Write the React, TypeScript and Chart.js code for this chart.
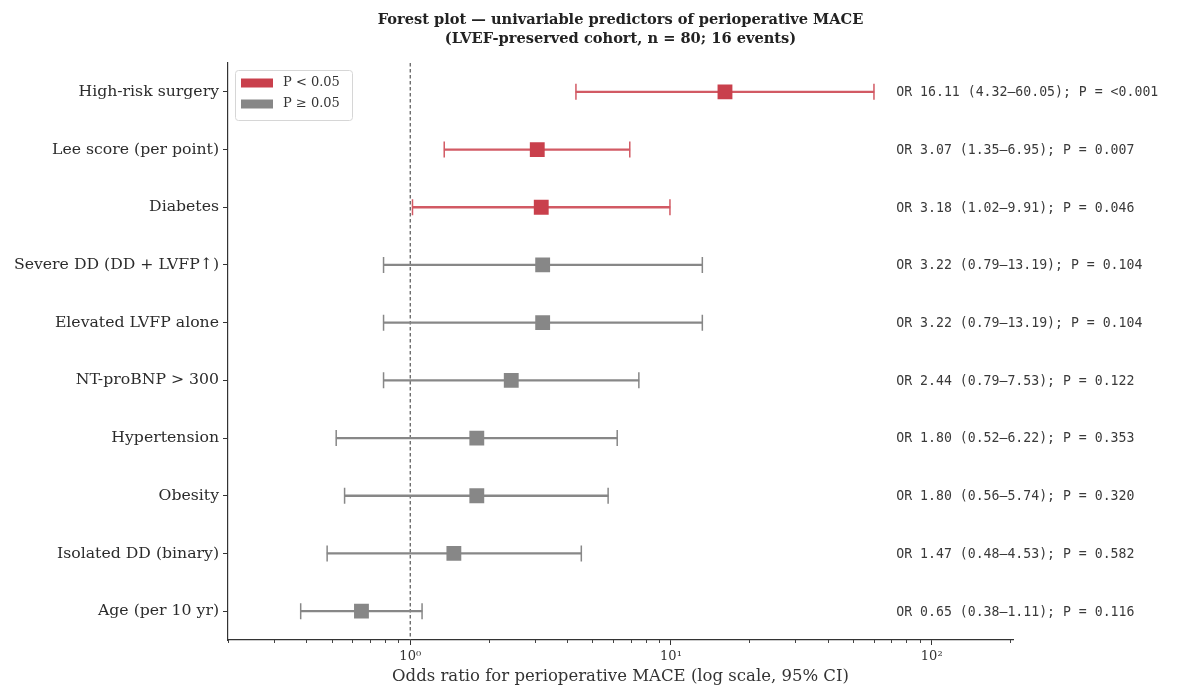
import React, { useEffect, useRef } from "react";
import { Chart, registerables } from "chart.js";

Chart.register(...registerables);

const categories = [
  "High-risk surgery",
  "Lee score (per point)",
  "Diabetes",
  "Severe DD (DD + LVFP\u2191)",
  "Elevated LVFP alone",
  "NT-proBNP > 300",
  "Hypertension",
  "Obesity",
  "Isolated DD (binary)",
  "Age (per 10 yr)",
];
const oddsRatios = [16.11, 3.07, 3.18, 3.22, 3.22, 2.44, 1.8, 1.8, 1.47, 0.65];
const ciLower = [4.32, 1.35, 1.02, 0.79, 0.79, 0.79, 0.52, 0.56, 0.48, 0.38];
const ciUpper = [60.05, 6.95, 9.91, 13.19, 13.19, 7.53, 6.22, 5.74, 4.53, 1.11];
const pValues = [0.0005, 0.007, 0.046, 0.104, 0.104, 0.122, 0.353, 0.32, 0.582, 0.116];
const pLabels = ["<0.001", "0.007", "0.046", "0.104", "0.104", "0.122", "0.353", "0.320", "0.582", "0.116"];
const xTickValues = [1, 10, 100];
const xTickLabels = ["10\u2070", "10\u00b9", "10\u00b2"];
const legendLabels = ["P < 0.05", "P \u2265 0.05"];

const RED = "#c9404c";
const RED_LINE = "#d25a64";
const GREY = "#878787";
const X_MIN = 0.2;
const X_MAX = 205;

const sig = pValues.map((p) => p < 0.05);
const markerColors = sig.map((s) => (s ? RED : GREY));
const lineColors = sig.map((s) => (s ? RED_LINE : GREY));
const annotations = categories.map(
  (_, i) =>
    `OR ${oddsRatios[i].toFixed(2)} (${ciLower[i].toFixed(2)}\u2013${ciUpper[i].toFixed(2)}); P = ${pLabels[i]}`
);

const SERIF = "'DejaVu Serif', serif";
const MONO = "'DejaVu Sans Mono', monospace";

const overlayPlugin = {
  id: "forestOverlay",
  beforeDatasetsDraw(chart: any) {
    const { ctx, chartArea } = chart;
    const x = chart.scales.x.getPixelForValue(1);
    ctx.save();
    ctx.strokeStyle = "#555555";
    ctx.lineWidth = 1.2;
    ctx.setLineDash([3.5, 2.5]);
    ctx.beginPath();
    ctx.moveTo(x, chartArea.top);
    ctx.lineTo(x, chartArea.bottom);
    ctx.stroke();
    ctx.restore();
  },
  afterDraw(chart: any) {
    const { ctx, chartArea } = chart;
    const xs = chart.scales.x;
    const ys = chart.scales.y;
    ctx.save();
    // title
    const cx = (chartArea.left + chartArea.right) / 2;
    ctx.fillStyle = "#222222";
    ctx.font = `bold 14.6px ${SERIF}`;
    ctx.textAlign = "center";
    ctx.textBaseline = "middle";
    ctx.fillText("Forest plot \u2014 univariable predictors of perioperative MACE", cx, 20);
    ctx.fillText("(LVEF-preserved cohort, n = 80; 16 events)", cx, 39.5);

    // minor ticks on x axis
    ctx.strokeStyle = "#444444";
    ctx.lineWidth = 1;
    for (let d = -1; d <= 2; d++) {
      for (let m = 2; m <= 9; m++) {
        const v = m * Math.pow(10, d);
        if (v < X_MIN || v > X_MAX) continue;
        const px = Math.round(xs.getPixelForValue(v)) + 0.5;
        ctx.beginPath();
        ctx.moveTo(px, chartArea.bottom);
        ctx.lineTo(px, chartArea.bottom + 3);
        ctx.stroke();
      }
    }

    // annotations
    ctx.font = `13.2px ${MONO}`;
    ctx.fillStyle = "#3a3a3a";
    ctx.textAlign = "left";
    ctx.textBaseline = "middle";
    const ax = chartArea.left + 0.85 * (chartArea.right - chartArea.left);
    annotations.forEach((t, i) => {
      ctx.fillText(t, ax + 1, ys.getPixelForValue(i) + 1);
    });

    // legend
    const lx = 235, ly = 70, lw = 117, lh = 50;
    ctx.fillStyle = "rgba(255,255,255,0.85)";
    ctx.strokeStyle = "#d6d6d6";
    ctx.lineWidth = 1;
    ctx.beginPath();
    ctx.roundRect(lx + 0.5, ly + 0.5, lw, lh, 3);
    ctx.fill();
    ctx.stroke();
    const items = [RED, GREY];
    ctx.font = `13px ${SERIF}`;
    items.forEach((c, i) => {
      const yy = ly + 13 + i * 21;
      ctx.fillStyle = c;
      ctx.fillRect(lx + 6, yy - 4.5, 32, 9);
      ctx.fillStyle = "#333333";
      ctx.fillText(legendLabels[i], lx + 48, yy);
    });
    ctx.restore();
  },
};

export default function App() {
  const canvasRef = useRef<HTMLCanvasElement | null>(null);

  useEffect(() => {
    document.body.style.margin = "0";
    const canvas = canvasRef.current;
    if (!canvas) return;

    const barData = categories.map((_, i) => [ciLower[i], ciUpper[i]]);
    const capData: any[] = [];
    const capColors: string[] = [];
    categories.forEach((c, i) => {
      capData.push({ x: ciLower[i], y: c });
      capData.push({ x: ciUpper[i], y: c });
      capColors.push(lineColors[i], lineColors[i]);
    });
    const pointData = categories.map((c, i) => ({ x: oddsRatios[i], y: c }));

    const chart = new Chart(canvas, {
      type: "bar",
      data: {
        labels: categories,
        datasets: [
          {
            type: "scatter",
            label: "OR",
            data: pointData,
            pointStyle: "rect",
            pointRadius: 10.5,
            pointHoverRadius: 10.5,
            backgroundColor: markerColors,
            borderColor: markerColors,
            borderWidth: 0,
            xAxisID: "x",
            yAxisID: "y",
          } as any,
          {
            type: "scatter",
            label: "caps",
            data: capData,
            pointStyle: "line",
            rotation: 90,
            pointRadius: 8,
            pointHoverRadius: 8,
            borderColor: capColors,
            backgroundColor: capColors,
            borderWidth: 1.5,
            xAxisID: "x",
            yAxisID: "y",
          } as any,
          {
            type: "bar",
            label: "CI",
            data: barData,
            indexAxis: "y",
            barThickness: 1.6,
            backgroundColor: lineColors,
            borderWidth: 0,
            xAxisID: "x",
            yAxisID: "y",
          } as any,
        ],
      },
      options: {
        animation: false,
        responsive: false,
        maintainAspectRatio: false,
        indexAxis: "y",
        layout: { padding: { top: 63, right: 182, left: 0, bottom: 0 } },
        plugins: {
          legend: { display: false },
          title: { display: false },
          tooltip: { enabled: false },
        },
        scales: {
          x: {
            type: "logarithmic",
            position: "bottom",
            min: X_MIN,
            max: X_MAX,
            afterBuildTicks: (scale: any) => {
              scale.ticks = xTickValues.map((v) => ({ value: v }));
            },
            afterFit: (scale: any) => {
              scale.height = 54;
            },
            ticks: {
              autoSkip: false,
              maxRotation: 0,
              padding: 4,
              color: "#333333",
              font: { family: SERIF, size: 13 },
              callback: (value: any) => {
                const idx = xTickValues.indexOf(Number(value));
                return idx >= 0 ? xTickLabels[idx] : "";
              },
            },
            grid: {
              display: true,
              drawOnChartArea: false,
              drawTicks: true,
              tickLength: 5,
              color: "#333333",
            },
            border: { display: true, color: "#333333", width: 1.2 },
            title: {
              display: true,
              text: "Odds ratio for perioperative MACE (log scale, 95% CI)",
              color: "#333333",
              font: { family: SERIF, size: 16.5 },
              padding: { top: 0, bottom: 7 },
            },
          },
          y: {
            type: "category",
            position: "left",
            labels: categories,
            offset: true,
            afterFit: (scale: any) => {
              scale.width = 228;
            },
            ticks: {
              autoSkip: false,
              padding: 4,
              color: "#2b2b2b",
              font: { family: SERIF, size: 15.7 },
            },
            grid: {
              display: true,
              offset: false,
              drawOnChartArea: false,
              drawTicks: true,
              tickLength: 5,
              color: "#333333",
            },
            border: { display: true, color: "#333333", width: 1.2 },
          },
        },
      } as any,
      plugins: [overlayPlugin],
    });

    return () => chart.destroy();
  }, []);

  return (
    <div style={{ position: "absolute", left: 0, top: 0, width: 1195, height: 694, background: "#ffffff" }}>
      <canvas ref={canvasRef} width={1195} height={694} style={{ width: 1195, height: 694 }} />
    </div>
  );
}
